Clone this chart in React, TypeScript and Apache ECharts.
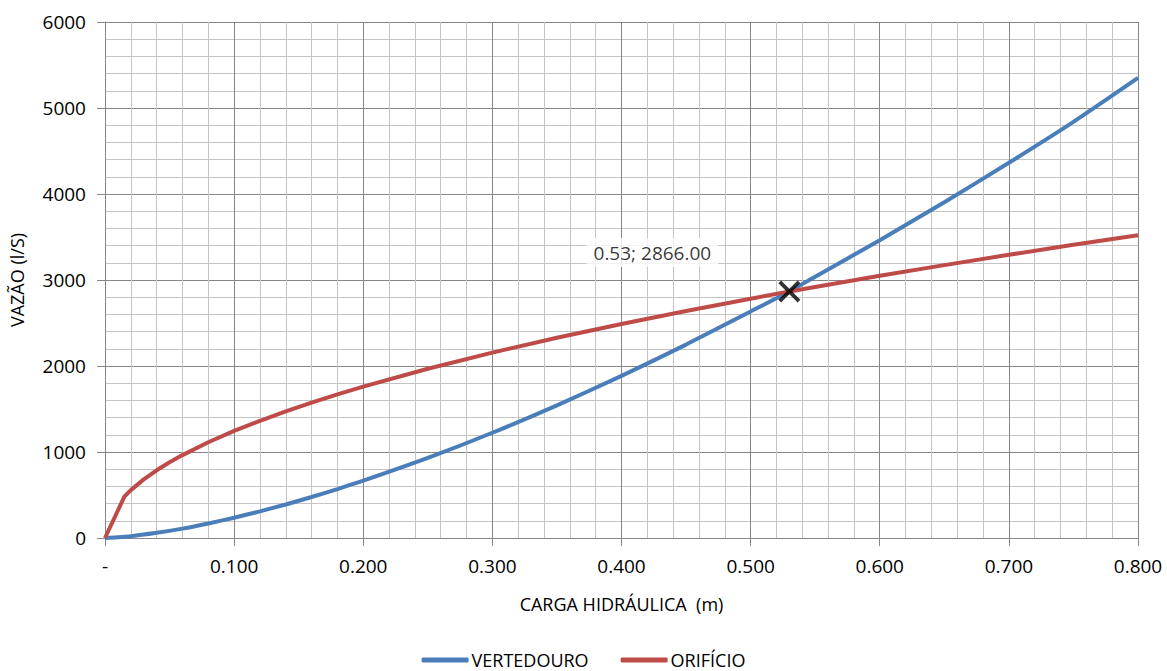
import React, { useEffect, useRef } from "react";
import * as echarts from "echarts";

const vertH = [0, 0.02, 0.04, 0.06, 0.08, 0.1, 0.12, 0.14, 0.16, 0.18, 0.2, 0.25, 0.3, 0.35, 0.4, 0.45, 0.5, 0.53, 0.55, 0.6, 0.65, 0.7, 0.75, 0.8];
const vertQ = [0, 21, 60, 109, 169, 236, 310, 390, 477, 569, 666, 931, 1224, 1543, 1885, 2249, 2634, 2866, 3039, 3462, 3904, 4363, 4839, 5350];

const orifH = [0, 0.015, 0.02, 0.03, 0.04, 0.05, 0.06, 0.08, 0.1, 0.12, 0.14, 0.16, 0.18, 0.2, 0.25, 0.3, 0.35, 0.4, 0.45, 0.5, 0.53, 0.55, 0.6, 0.65, 0.7, 0.75, 0.8];
const orifQ = [0, 480, 557, 682, 787, 880, 964, 1113, 1245, 1363, 1473, 1574, 1670, 1760, 1968, 2156, 2329, 2489, 2640, 2783, 2866, 2919, 3049, 3173, 3293, 3409, 3520];

const crossPoint = [0.53, 2866];
const crossLabel = "0.53; 2866.00";

const FONT = "'Open Sans', 'Liberation Sans', Arial, sans-serif";

export default function App() {
  const ref = useRef<HTMLDivElement>(null);
  useEffect(() => {
    if (!ref.current) return;
    const chart = echarts.init(ref.current, null, { renderer: "svg" });
    const majorLine = { show: true, lineStyle: { color: "#868686", width: 1 } };
    const minorLine = { show: true, lineStyle: { color: "#c4c4c4", width: 1 } };
    chart.setOption({
      animation: false,
      backgroundColor: "#ffffff",
      textStyle: { fontFamily: FONT },
      grid: { left: 103, right: 29, top: 22, bottom: 133, containLabel: false },
      legend: {
        bottom: 1,
        left: "center",
        padding: 0,
        data: [
          { name: "VERTEDOURO", icon: "roundRect" },
          { name: "ORIFÍCIO", icon: "roundRect" },
        ],
        itemWidth: 47,
        itemHeight: 5,
        itemGap: 32,
        textStyle: {
          fontSize: 18,
          lineHeight: 20,
          color: "#000",
          fontFamily: FONT,
          padding: [0, 0, 0, -2],
        },
      },
      xAxis: {
        type: "value",
        min: 0,
        max: 0.8,
        interval: 0.1,
        name: "CARGA HIDRÁULICA  (m)",
        nameLocation: "middle",
        nameGap: 57,
        nameTextStyle: { fontSize: 18, color: "#000", fontFamily: FONT },
        axisLine: { show: true, lineStyle: { color: "#868686" } },
        axisTick: { show: true, length: 8, lineStyle: { color: "#868686" } },
        axisLabel: {
          fontSize: 19,
          color: "#000",
          margin: 18,
          fontFamily: FONT,
          formatter: (v: number) => (v === 0 ? "-" : v.toFixed(3)),
        },
        splitLine: majorLine,
        minorTick: { show: false, splitNumber: 5 },
        minorSplitLine: minorLine,
      },
      yAxis: {
        type: "value",
        min: 0,
        max: 6000,
        interval: 1000,
        name: "VAZÃO (l/S)",
        nameLocation: "middle",
        nameGap: 79,
        nameRotate: 90,
        nameTextStyle: { fontSize: 18, color: "#000", fontFamily: FONT },
        axisLine: { show: true, lineStyle: { color: "#868686" } },
        axisTick: { show: true, length: 8, lineStyle: { color: "#868686" } },
        axisLabel: {
          fontSize: 19,
          color: "#000",
          margin: 19,
          fontFamily: FONT,
          formatter: (v: number) => String(v),
        },
        splitLine: majorLine,
        minorTick: { show: false, splitNumber: 5 },
        minorSplitLine: minorLine,
      },
      series: [
        {
          name: "VERTEDOURO",
          type: "line",
          data: vertH.map((h, i) => [h, vertQ[i]]),
          showSymbol: false,
          symbol: "none",
          smooth: 0.2,
          lineStyle: { color: "#4a7ebb", width: 4 },
          itemStyle: { color: "#4a7ebb" },
          z: 2,
        },
        {
          name: "ORIFÍCIO",
          type: "line",
          data: orifH.map((h, i) => [h, orifQ[i]]),
          showSymbol: false,
          symbol: "none",
          smooth: false,
          lineStyle: { color: "#be4b48", width: 4 },
          itemStyle: { color: "#be4b48" },
          z: 3,
        },
        {
          name: "cross",
          type: "scatter",
          data: [crossPoint],
          symbol:
            "path://M0,2.5 L2.5,0 L10,7.5 L17.5,0 L20,2.5 L12.5,10 L20,17.5 L17.5,20 L10,12.5 L2.5,20 L0,17.5 L7.5,10 Z",
          symbolSize: 22,
          itemStyle: { color: "#000" },
          z: 5,
          label: {
            show: true,
            position: "inside",
            offset: [-137, -39],
            formatter: () => crossLabel,
            backgroundColor: "#ffffff",
            padding: [5, 7],
            fontSize: 19,
            color: "#000",
            fontFamily: FONT,
          },
        },
      ],
    });
    return () => chart.dispose();
  }, []);
  return (
    <div
      ref={ref}
      style={{ position: "fixed", left: 0, top: 0, width: 1167, height: 671 }}
    />
  );
}
